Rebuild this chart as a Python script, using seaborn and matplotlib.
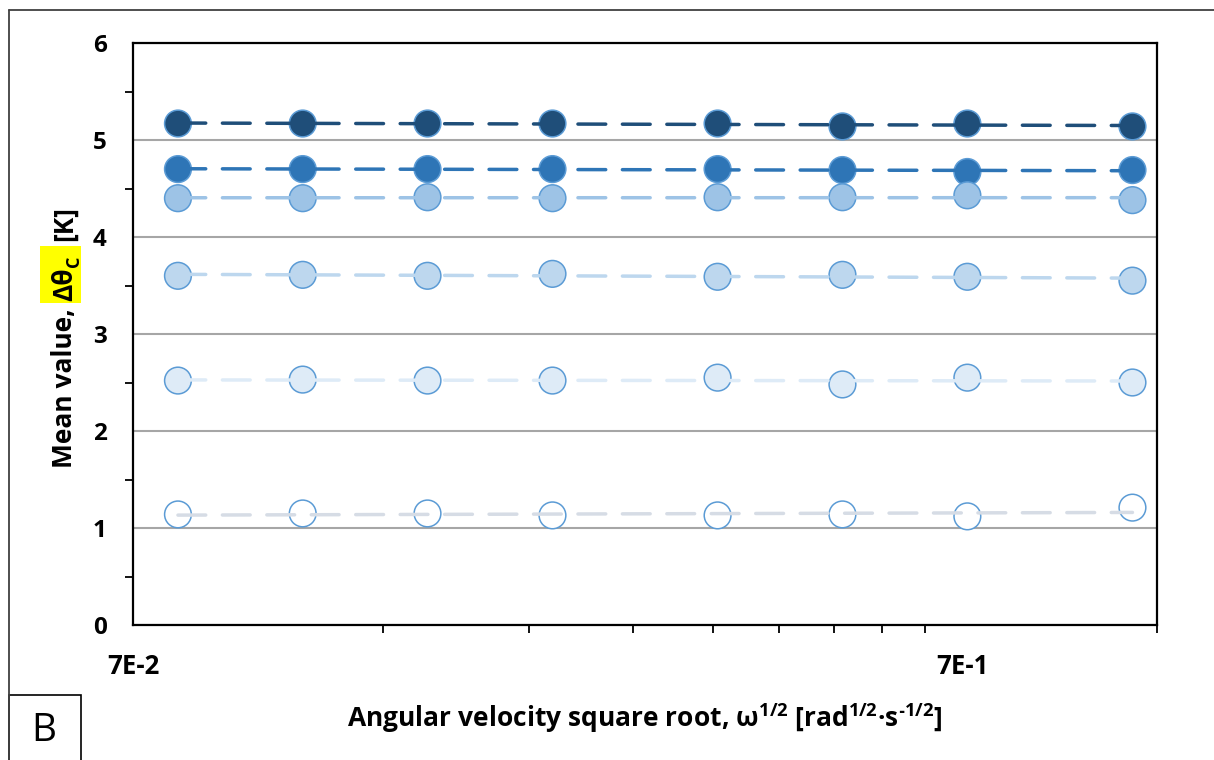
import numpy as np
import pandas as pd
import matplotlib
matplotlib.use("Agg")
import matplotlib.pyplot as plt
import seaborn as sns
from matplotlib.ticker import FixedLocator, FixedFormatter, NullFormatter
from matplotlib.patches import Rectangle
from matplotlib.lines import Line2D
from matplotlib.transforms import IdentityTransform

# Square root of angular velocity [rad^1/2 s^-1/2]
omega_sqrt = [0.0793, 0.1121, 0.1585, 0.2242, 0.3545, 0.5013, 0.7090, 1.1210]

# Mean temperature rise for each data set [K]
series_1 = [5.17, 5.17, 5.17, 5.17, 5.17, 5.14, 5.17, 5.14]
series_2 = [4.70, 4.70, 4.70, 4.70, 4.70, 4.69, 4.67, 4.69]
series_3 = [4.40, 4.40, 4.41, 4.40, 4.41, 4.41, 4.43, 4.38]
series_4 = [3.60, 3.61, 3.60, 3.62, 3.59, 3.61, 3.59, 3.55]
series_5 = [2.52, 2.53, 2.52, 2.52, 2.55, 2.48, 2.55, 2.50]
series_6 = [1.14, 1.15, 1.15, 1.13, 1.13, 1.14, 1.12, 1.21]

series_names = ["s1", "s2", "s3", "s4", "s5", "s6"]
series_values = [series_1, series_2, series_3, series_4, series_5, series_6]

fill_colors = ["#1F4E79", "#2E75B6", "#9DC3E6", "#BDD7EE", "#DEEBF7", "#FFFFFF"]
trend_colors = ["#1F4E79", "#2E75B6", "#9DC3E6", "#BDD7EE", "#DEEBF7", "#D6DCE5"]
edge_color = "#5B9BD5"

x_ticks = [0.07, 0.7]
x_tick_labels = ["7E-2", "7E-1"]
y_ticks = [0, 1, 2, 3, 4, 5, 6]
y_tick_labels = ["0", "1", "2", "3", "4", "5", "6"]

sns.set_theme(style="white")
plt.rcParams["font.family"] = ["Open Sans", "DejaVu Sans"]
plt.rcParams["font.weight"] = "bold"
plt.rcParams["text.color"] = "black"
plt.rcParams["axes.labelcolor"] = "black"

W, H = 1214, 760
fig = plt.figure(figsize=(W / 100, H / 100), dpi=100)
fig.patch.set_facecolor("white")
ax = fig.add_axes([133 / W, (H - 625) / H, 1024 / W, 582 / H])

df = pd.DataFrame({
    "x": np.tile(omega_sqrt, len(series_names)),
    "y": np.concatenate(series_values),
    "series": np.repeat(series_names, len(omega_sqrt)),
})

sns.scatterplot(data=df, x="x", y="y", hue="series",
                palette=dict(zip(series_names, fill_colors)),
                s=370, edgecolor=edge_color, linewidth=1.1,
                legend=False, ax=ax, zorder=3)

# logarithmic trend lines (straight on the log axis)
for name, vals, col in zip(series_names, series_values, trend_colors):
    xs = np.array(omega_sqrt)
    coef = np.polyfit(np.log(xs), np.array(vals), 1)
    tx = np.geomspace(xs[0], xs[-1], 50)
    ty = coef[0] * np.log(tx) + coef[1]
    sns.lineplot(x=tx, y=ty, color=col, lw=2.5, ax=ax, zorder=4,
                 linestyle=(0, (8.0, 4.8)), dash_capstyle="round",
                 sort=False, estimator=None)

ax.set_xscale("log")
ax.set_xlim(0.07, 1.2)
ax.set_ylim(0, 6)

ax.xaxis.set_major_locator(FixedLocator(x_ticks))
ax.xaxis.set_major_formatter(FixedFormatter(x_tick_labels))
ax.xaxis.set_minor_locator(FixedLocator([0.07 * k for k in range(2, 10)] + [1.2]))
ax.xaxis.set_minor_formatter(NullFormatter())
ax.yaxis.set_major_locator(FixedLocator(y_ticks))
ax.yaxis.set_major_formatter(FixedFormatter(y_tick_labels))
ax.yaxis.set_minor_locator(FixedLocator(np.arange(0.5, 6, 1.0)))

ax.grid(False)
ax.yaxis.grid(True, which="major", color="#A6A6A6", lw=1.5)
ax.set_axisbelow(True)

for sp in ax.spines.values():
    sp.set_visible(True)
    sp.set_color("black")
    sp.set_linewidth(1.6)

ax.tick_params(axis="both", which="major", direction="inout", length=14,
               width=1.4, color="black", labelcolor="black")
ax.tick_params(axis="y", which="major", pad=12, labelsize=17.5)
ax.tick_params(axis="x", which="major", pad=13, labelsize=18.5)
ax.tick_params(axis="both", which="minor", direction="out", length=6,
               width=1.3, color="black")
ax.tick_params(axis="x", which="minor", bottom=True)
ax.tick_params(axis="y", which="minor", left=True)
for lab in ax.get_xticklabels() + ax.get_yticklabels():
    lab.set_fontweight("bold")

ax.set_xlabel("")
ax.set_ylabel("")

# x-axis title with superscripts
fig.text(645 / W, (H - 727) / H,
         "Angular velocity square root, ω$^{\\mathregular{1/2}}$ "
         "[rad$^{\\mathregular{1/2}}$·s$^{\\mathregular{\u20101/2}}$]",
         ha="center", va="baseline", fontsize=19, fontweight="bold",
         color="black")

# y-axis title built from pieces so the symbol can be highlighted
fig.canvas.draw()
renderer = fig.canvas.get_renderer()
px = IdentityTransform()
base_x = 72
y_cursor = H - 468
t1 = fig.text(base_x, y_cursor, "Mean value,", transform=px, rotation=90,
              rotation_mode="anchor", ha="left", va="baseline",
              fontsize=19, fontweight="bold", color="black")
ext = t1.get_window_extent(renderer)
y_cursor = ext.y1 + 7
hl_start = y_cursor - 2
t2 = fig.text(base_x, y_cursor, "Δθ", transform=px, rotation=90,
              rotation_mode="anchor", ha="left", va="baseline",
              fontsize=19, fontweight="bold", color="black", zorder=5)
ext = t2.get_window_extent(renderer)
y_cursor = ext.y1 + 1
t3 = fig.text(base_x + 7, y_cursor, "C", transform=px, rotation=90,
              rotation_mode="anchor", ha="left", va="baseline",
              fontsize=13, fontweight="bold", color="black", zorder=5)
ext = t3.get_window_extent(renderer)
hl_end = ext.y1 + 9
fig.add_artist(Rectangle((40, hl_start), 41, hl_end - hl_start, transform=px,
                         facecolor="#FFFF00", edgecolor="none", zorder=1))
fig.text(base_x, hl_end + 5, "[K]", transform=px, rotation=90,
         rotation_mode="anchor", ha="left", va="baseline",
         fontsize=19, fontweight="bold", color="black")

# chart frame and panel tag
frame_col = "#404040"
fig.add_artist(Line2D([8.5, 8.5], [0, H - 10], transform=px, color=frame_col, lw=1.3))
fig.add_artist(Line2D([8.5, W], [H - 10, H - 10], transform=px, color=frame_col, lw=1.3))
fig.add_artist(Rectangle((8.5, -2), 72, H - 695 + 2, transform=px,
                         facecolor="white", edgecolor="black", lw=1.2))
fig.text(44, H - 731, "B", transform=px, ha="center", va="center",
         fontsize=28, fontweight="normal", color="black")

fig.savefig("out.png", dpi=100)
